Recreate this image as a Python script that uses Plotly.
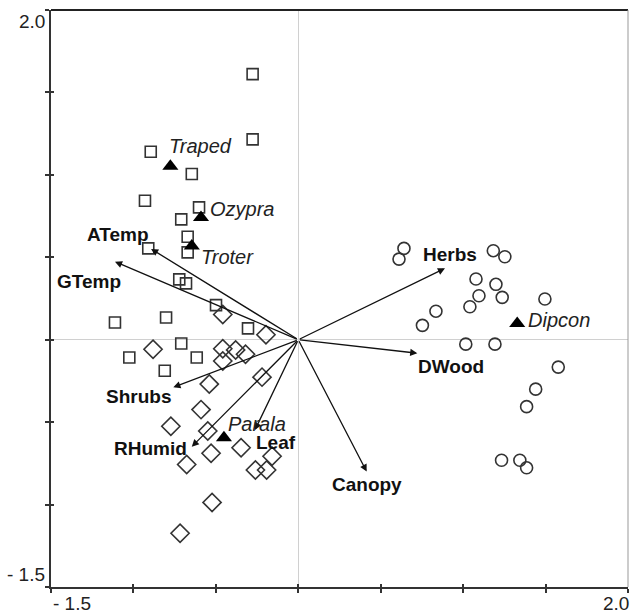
import plotly.graph_objects as go

# ---------------- data ----------------
# site scores, group 1 (squares)
sq_x = [-0.277, -0.277, -0.895, -0.646, -0.930, -0.602, -0.710, -0.671, -0.910, -0.671,
        -0.722, -0.681, -0.499, -1.112, -0.802, -0.305, -0.710, -1.025, -0.616, -0.810]
sq_y = [1.611, 1.215, 1.140, 1.005, 0.843, 0.803, 0.730, 0.625, 0.554, 0.530,
        0.366, 0.342, 0.210, 0.104, 0.135, 0.069, -0.023, -0.108, -0.108, -0.188]
# site scores, group 2 (diamonds)
dia_x = [-0.458, -0.196, -0.881, -0.458, -0.380, -0.320, -0.458, -0.220, -0.540, -0.590,
         -0.773, -0.549, -0.347, -0.529, -0.159, -0.677, -0.260, -0.192, -0.523, -0.717]
dia_y = [0.153, 0.030, -0.058, -0.055, -0.062, -0.088, -0.129, -0.227, -0.269, -0.424,
         -0.525, -0.554, -0.655, -0.689, -0.707, -0.757, -0.790, -0.790, -0.987, -1.174]
# site scores, group 3 (circles)
circ_x = [0.641, 0.611, 1.183, 1.253, 1.078, 1.199, 1.096, 1.237, 1.496, 0.835,
          1.041, 0.753, 1.016, 1.193, 1.577, 1.440, 1.385, 1.233, 1.344, 1.385]
circ_y = [0.554, 0.489, 0.540, 0.503, 0.368, 0.336, 0.267, 0.257, 0.247, 0.173,
          0.200, 0.087, -0.027, -0.027, -0.166, -0.300, -0.406, -0.731, -0.731, -0.777]
# species scores
species = ["Traped", "Ozypra", "Troter", "Parala", "Dipcon"]
sp_x = [-0.776, -0.590, -0.646, -0.451, 1.328]
sp_y = [1.052, 0.742, 0.568, -0.594, 0.099]
# environmental variables (biplot arrows)
env = ["ATemp", "GTemp", "Shrubs", "RHumid", "Leaf", "Canopy", "DWood", "Herbs"]
env_x = [-0.893, -1.112, -0.758, -0.646, -0.263, 0.415, 0.722, 0.890]
env_y = [0.551, 0.473, -0.289, -0.649, -0.548, -0.800, -0.082, 0.433]
# axis range / tick labels
axis_min, axis_max = -1.5, 2.0
tick_vals = [-1.5, -1.0, -0.5, 0.0, 0.5, 1.0, 1.5, 2.0]
x_end_labels = ["- 1.5", "2.0"]
y_end_labels = ["- 1.5", "2.0"]

# ---------------- styles ----------------
FONT = "Liberation Sans, Arial, sans-serif"
env_shift = {  # label offsets in pixels relative to arrow head
    "ATemp": (-33, 14), "GTemp": (-26, -20), "Shrubs": (-35, -9), "RHumid": (-41, -2),
    "Leaf": (21, -12), "Canopy": (0, -13), "DWood": (34, -13), "Herbs": (5, 14),
}
sp_shift = {
    "Traped": (-3, 20), "Ozypra": (7, 8), "Troter": (7, -11), "Parala": (2, 14), "Dipcon": (9, 3),
}
outline = dict(color="#333333", width=1.6)

fig = go.Figure()
fig.add_trace(go.Scatter(x=sq_x, y=sq_y, mode="markers",
                         marker=dict(symbol="square-open", size=11, line=outline, color="#333333")))
fig.add_trace(go.Scatter(x=dia_x, y=dia_y, mode="markers",
                         marker=dict(symbol="diamond-open", size=14, line=outline, color="#333333")))
fig.add_trace(go.Scatter(x=circ_x, y=circ_y, mode="markers",
                         marker=dict(symbol="circle-open", size=12, line=outline, color="#333333")))
fig.add_trace(go.Scatter(x=sp_x, y=sp_y, mode="markers",
                         marker=dict(symbol="triangle-up", size=14, color="black")))

annotations = []
for name, x, y in zip(env, env_x, env_y):
    annotations.append(dict(x=x, y=y, ax=0, ay=0, xref="x", yref="y", axref="x", ayref="y",
                            text="", showarrow=True, arrowhead=2, arrowsize=1.1,
                            arrowwidth=1.3, arrowcolor="#111111", standoff=0))
    dx, dy = env_shift[name]
    annotations.append(dict(x=x, y=y, xref="x", yref="y", text="<b>%s</b>" % name,
                            showarrow=False, xshift=dx, yshift=dy,
                            font=dict(family=FONT, size=19, color="#111111")))
for name, x, y in zip(species, sp_x, sp_y):
    dx, dy = sp_shift[name]
    annotations.append(dict(x=x, y=y, xref="x", yref="y", text="<i>%s</i>" % name,
                            showarrow=False, xanchor="left", xshift=dx, yshift=dy,
                            font=dict(family=FONT, size=20, color="#222222")))
# end tick labels
annotations.append(dict(x=axis_min, y=0, xref="x", yref="paper", text=x_end_labels[0],
                        showarrow=False, xanchor="left", yanchor="top", yshift=-4,
                        font=dict(family=FONT, size=19, color="#222222")))
annotations.append(dict(x=axis_max, y=0, xref="x", yref="paper", text=x_end_labels[1],
                        showarrow=False, xanchor="right", yanchor="top", yshift=-4, xshift=3,
                        font=dict(family=FONT, size=19, color="#222222")))
annotations.append(dict(x=0, y=axis_min, xref="paper", yref="y", text=y_end_labels[0],
                        showarrow=False, xanchor="right", yanchor="bottom", xshift=-4, yshift=0,
                        font=dict(family=FONT, size=19, color="#222222")))
annotations.append(dict(x=0, y=axis_max, xref="paper", yref="y", text=y_end_labels[1],
                        showarrow=False, xanchor="right", yanchor="top", xshift=-4, yshift=1,
                        font=dict(family=FONT, size=19, color="#222222")))

axis_common = dict(range=[axis_min, axis_max], tickvals=tick_vals, showticklabels=False,
                   showgrid=False, zeroline=True, zerolinecolor="#d0d0d0", zerolinewidth=1,
                   ticks="outside", ticklen=4, tickwidth=1.5, tickcolor="#333333",
                   showline=True, linecolor="#333333", linewidth=2)
fig.update_layout(
    width=632, height=615,
    margin=dict(l=51, r=4, t=10, b=28),
    paper_bgcolor="white", plot_bgcolor="white",
    showlegend=False,
    xaxis=dict(**axis_common),
    yaxis=dict(**axis_common),
    xaxis2=dict(range=[axis_min, axis_max], overlaying="x", side="bottom", tickvals=tick_vals,
                showticklabels=False, showgrid=False, zeroline=False, ticks="inside",
                ticklen=3, tickwidth=1.5, tickcolor="#333333", showline=False),
    yaxis2=dict(range=[axis_min, axis_max], overlaying="y", side="left", tickvals=tick_vals,
                showticklabels=False, showgrid=False, zeroline=False, ticks="inside",
                ticklen=3, tickwidth=1.5, tickcolor="#333333", showline=False),
    annotations=annotations,
    shapes=[
        dict(type="line", xref="paper", yref="paper", x0=0, x1=1, y0=1, y1=1,
             line=dict(color="#222222", width=2)),
        dict(type="line", xref="paper", yref="paper", x0=1, x1=1, y0=0, y1=1,
             line=dict(color="#999999", width=1)),
    ],
)
# invisible trace to activate the secondary axes
fig.add_trace(go.Scatter(x=[axis_min], y=[axis_min], xaxis="x2", yaxis="y2", mode="markers",
                         marker=dict(opacity=0), hoverinfo="skip"))
fig.write_html("out.html", config={"displayModeBar": False},
               post_script="document.body.style.margin='0px';")
